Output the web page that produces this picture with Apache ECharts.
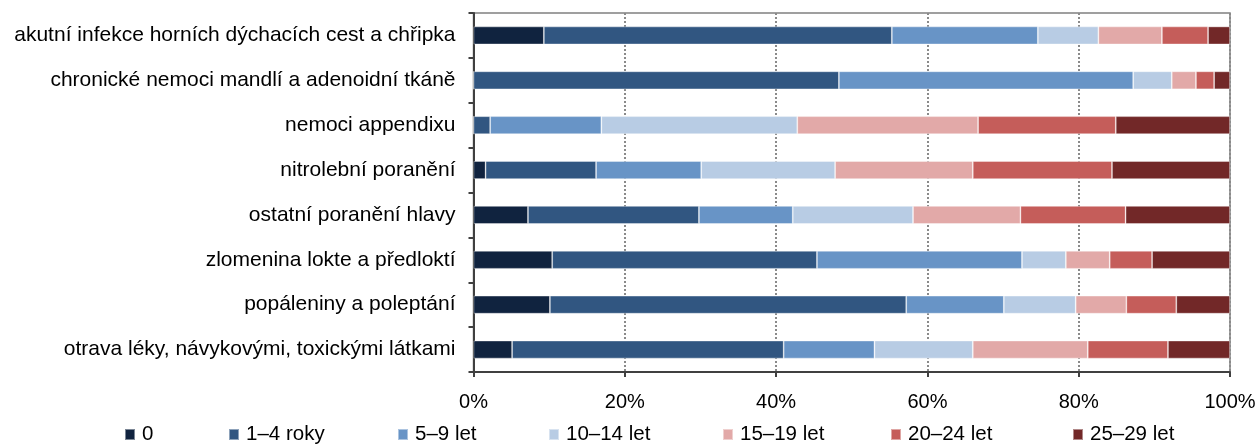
<!DOCTYPE html>
<html><head><meta charset="utf-8">
<script src="https://cdn.jsdelivr.net/npm/echarts@6/dist/echarts.min.js"></script>
<style>html,body{margin:0;padding:0;background:#fff}#c{width:1260px;height:445px}</style>
</head><body><div id="c"></div>
<script>
const categories = [
  'akutní infekce horních dýchacích cest a chřipka',
  'chronické nemoci mandlí a adenoidní tkáně',
  'nemoci appendixu',
  'nitrolební poranění',
  'ostatní poranění hlavy',
  'zlomenina lokte a předloktí',
  'popáleniny a poleptání',
  'otrava léky, návykovými, toxickými látkami'
];
const seriesNames = ['0', '1–4 roky', '5–9 let', '10–14 let', '15–19 let', '20–24 let', '25–29 let'];
const s0    = [9.3, 0,    0,    1.6,  7.2,  10.4, 10.1, 5.1];
const s1_4  = [46.0, 48.3, 2.2, 14.6, 22.6, 35.0, 47.1, 35.9];
const s5_9  = [19.3, 38.9, 14.7, 13.9, 12.4, 27.1, 12.9, 12.0];
const s10_14= [8.0,  5.1,  25.9, 17.7, 15.9, 5.8,  9.5,  13.0];
const s15_19= [8.4,  3.2,  23.9, 18.2, 14.2, 5.8,  6.7,  15.2];
const s20_24= [6.1,  2.4,  18.2, 18.4, 13.9, 5.6,  6.6,  10.6];
const s25_29= [2.9,  2.1,  15.1, 15.6, 13.8, 10.3, 7.1,  8.2];
const xTicks = [0, 20, 40, 60, 80, 100];
const colors = ['#10233f', '#315681', '#6894c6', '#b8cce4', '#e2a9a8', '#c55d5a', '#722828'];
const seriesData = [s0, s1_4, s5_9, s10_14, s15_19, s20_24, s25_29];
const legendLeft = [124, 228, 397, 548, 722, 890, 1072];
const font = "'Liberation Sans', Arial, sans-serif";

const chart = echarts.init(document.getElementById('c'), null, {renderer: 'canvas'});
chart.setOption({
  animation: false,
  color: colors,
  grid: {left: 473.5, right: 30, top: 13, bottom: 73, show: true, borderColor: '#808080', borderWidth: 1.5, backgroundColor: 'transparent'},
  legend: seriesNames.map((n, i) => ({
    data: [n], left: legendLeft[i], top: 424, padding: 0, icon: 'rect',
    itemWidth: 10, itemHeight: 11, itemGap: 4,
    textStyle: {fontFamily: font, fontSize: 20.5, color: '#000', padding: [3, 0, 0, 2]}
  })),
  xAxis: {
    type: 'value', min: 0, max: 100, interval: 20,
    axisLine: {show: true, lineStyle: {color: '#404040', width: 2}},
    axisTick: {show: true, length: 5, lineStyle: {color: '#404040', width: 2}},
    axisLabel: {formatter: v => xTicks.includes(v) ? v + '%' : '', fontFamily: font, fontSize: 20, color: '#000', margin: 20},
    splitLine: {show: true, lineStyle: {type: 'dotted', color: '#8a8a8a', width: 2}}
  },
  yAxis: {
    type: 'category', data: categories, inverse: true,
    axisLine: {show: true, lineStyle: {color: '#404040', width: 2}},
    axisTick: {show: true, length: 5, lineStyle: {color: '#404040', width: 2}},
    axisLabel: {fontFamily: font, fontSize: 21, color: '#000', margin: 18}
  },
  series: seriesNames.map((n, i) => ({
    name: n, type: 'bar', stack: 'a', data: seriesData[i],
    barCategoryGap: '60%',
    itemStyle: {color: colors[i], borderColor: 'rgba(255,255,255,0.45)', borderWidth: 0.8}
  }))
});
</script></body></html>
